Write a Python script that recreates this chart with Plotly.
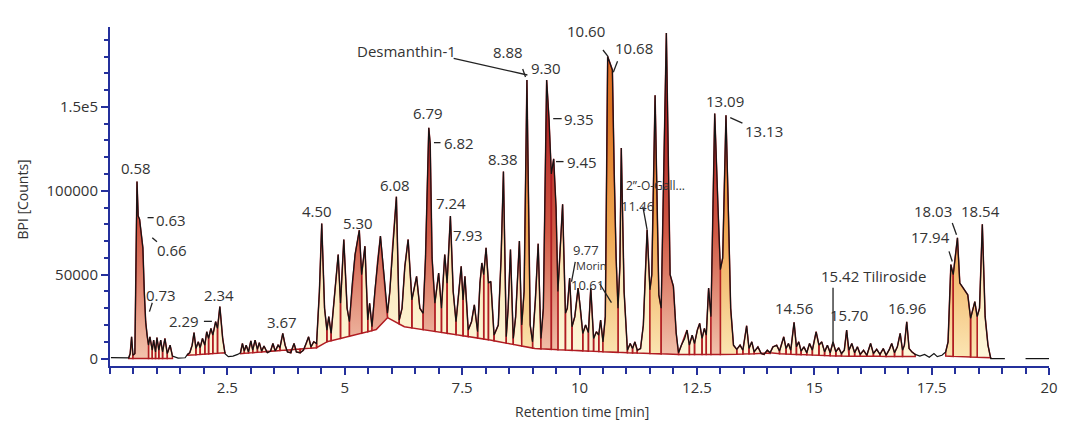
import numpy as np
import plotly.graph_objects as go

# ---------------- data ----------------
rt = [0.02, 0.40, 0.43, 0.46, 0.49, 0.53, 0.575, 0.60, 0.63, 0.66, 0.70, 0.73, 0.76, 0.79, 0.82,
      0.85, 0.90, 0.93, 0.97, 1.00, 1.04, 1.08, 1.12, 1.17, 1.22, 1.28, 1.33, 1.45, 1.60,
      1.65, 1.70, 1.75, 1.79, 1.83, 1.88, 1.92, 1.97, 2.02, 2.06, 2.10, 2.15, 2.19, 2.25, 2.29,
      2.34, 2.40, 2.45, 2.52, 2.62, 2.72,
      2.78, 2.82, 2.86, 2.90, 2.95, 3.00, 3.04, 3.09, 3.14, 3.18, 3.23, 3.28, 3.35, 3.42, 3.47,
      3.52, 3.58, 3.62, 3.68, 3.73, 3.78, 3.85, 3.92, 3.97, 4.05, 4.12, 4.18, 4.23, 4.28, 4.34,
      4.40, 4.46, 4.51, 4.57, 4.62, 4.66, 4.71, 4.77, 4.86, 4.91, 4.98, 5.05, 5.10, 5.16, 5.22,
      5.31, 5.36, 5.43, 5.49, 5.53, 5.58, 5.64, 5.70, 5.76, 5.85, 5.91, 5.96, 6.02, 6.10, 6.16,
      6.22, 6.28, 6.35, 6.43, 6.53, 6.60, 6.67, 6.72, 6.79, 6.82, 6.86, 6.92, 7.00, 7.06, 7.13,
      7.18, 7.25, 7.31, 7.37, 7.43, 7.48, 7.52, 7.56, 7.63, 7.70, 7.76, 7.83, 7.88, 7.92, 7.96,
      8.01, 8.06, 8.11, 8.18, 8.27, 8.33, 8.38, 8.44, 8.48, 8.53, 8.59, 8.64, 8.72, 8.77, 8.82,
      8.88, 8.95, 9.00, 9.06, 9.12, 9.18, 9.23, 9.30, 9.35, 9.40, 9.45, 9.50, 9.54, 9.58, 9.64,
      9.70, 9.74, 9.79, 9.84, 9.90, 9.97, 10.02, 10.07, 10.13, 10.19, 10.24, 10.30, 10.36, 10.41,
      10.45, 10.50, 10.55, 10.60, 10.65, 10.70, 10.74, 10.78, 10.82, 10.86, 10.89, 10.95, 11.02,
      11.08, 11.13, 11.18, 11.23, 11.30, 11.36, 11.44, 11.50, 11.54, 11.61, 11.69, 11.74, 11.85,
      11.93, 12.00, 12.06, 12.11, 12.17, 12.24, 12.29, 12.34, 12.40, 12.45, 12.51, 12.56, 12.61,
      12.66, 12.70, 12.75, 12.80, 12.88, 12.95, 13.00, 13.05, 13.12, 13.17, 13.22, 13.28, 13.35,
      13.42, 13.48, 13.56, 13.61, 13.67, 13.72, 13.80, 13.87, 13.93, 14.00, 14.06, 14.12, 14.20,
      14.26, 14.35, 14.40, 14.45, 14.50, 14.57, 14.62, 14.67, 14.72, 14.78, 14.84, 14.90, 14.96,
      15.04, 15.10, 15.16, 15.22, 15.28, 15.34, 15.40, 15.46, 15.52, 15.58, 15.64, 15.69, 15.74,
      15.80, 15.86, 15.92, 15.98, 16.05, 16.12, 16.20, 16.26, 16.33, 16.40, 16.47, 16.53, 16.60,
      16.65, 16.71, 16.77, 16.83, 16.88, 16.92, 16.97, 17.02, 17.08, 17.15, 17.25, 17.35, 17.45,
      17.55, 17.62, 17.72, 17.80, 17.85, 17.91, 17.96, 18.05, 18.10, 18.15, 18.22, 18.27, 18.33,
      18.42, 18.47, 18.52, 18.58, 18.64, 18.70, 18.76, 19.06]
bpi = [600, 500, 3000, 13000, 2000, 3000, 105500, 85000, 83000, 76000, 66000, 40000, 22000, 14000, 8000,
       13000, 5000, 11000, 4000, 12500, 5000, 11000, 4000, 12000, 3000, 8000, 1500, 300, 500,
       2500, 3500, 8000, 15500, 6000, 10000, 6500, 12000, 8000, 16000, 12000, 18000, 14000, 22000, 18000,
       31000, 12000, 3000, 1200, 1500, 2500,
       3500, 9000, 4500, 8000, 4000, 10500, 5000, 11000, 5500, 9500, 4500, 7500, 3500, 4500, 9000,
       4500, 8000, 6500, 15000, 8000, 4000, 3500, 9000, 4000, 3500, 5000, 9000, 13000, 7000, 10000,
       9000, 40000, 80500, 30000, 17000, 25000, 15000, 35000, 62000, 33000, 71000, 30000, 22000, 45000, 62000,
       76500, 50000, 67000, 23000, 33000, 19000, 40000, 58000, 73000, 46000, 27000, 40000, 67000, 96500, 23000,
       30000, 55000, 71000, 35000, 49000, 30000, 27000, 60000, 137500, 128000, 60000, 33000, 51000, 30000, 62000,
       45000, 85000, 40000, 22000, 40000, 55000, 35000, 49000, 17000, 22000, 32000, 16000, 45000, 57000, 50000,
       66000, 45000, 46000, 14000, 20000, 60000, 111500, 13000, 30000, 65000, 12000, 25000, 70000, 20000, 40000,
       166000, 20000, 10000, 35000, 68500, 12000, 30000, 166000, 143000, 110000, 119000, 90000, 40000, 60000, 92000,
       27000, 30000, 48000, 19000, 25000, 42000, 30000, 15000, 20000, 15500, 42000, 12000, 16000, 14000,
       23000, 10000, 25000, 180000, 176000, 172000, 110000, 60000, 30000, 55000, 125500, 40000, 5000,
       9000, 6000, 10000, 5000, 6000, 20000, 76800, 41000, 50000, 157000, 38000, 30000, 194000,
       50000, 43000, 15000, 3500, 8000, 12000, 17000, 8000, 14000, 9000, 17000, 21000, 12000,
       18000, 14000, 42000, 25000, 146000, 90000, 53000, 60000, 145000, 90000, 30000, 8000, 5500,
       8000, 5000, 19600, 6000, 10000, 4000, 7000, 3000, 2500, 5000, 3500, 7000, 8000,
       4500, 13000, 6000, 9000, 5000, 21600, 7000, 10000, 4500, 7000, 3500, 9000, 5000,
       16000, 8000, 10000, 4000, 8000, 3500, 10000, 4000, 6500, 3000, 5000, 17000, 5000,
       9000, 3500, 7000, 2500, 5000, 2000, 9000, 3000, 5500, 2500, 6000, 2000, 5500,
       9000, 3500, 7000, 15000, 5000, 8000, 22000, 6000, 4000, 2500, 1500, 2500, 800,
       3000, 1200, 2000, 4000, 10000, 56000, 50000, 72000, 45000, 43000, 40000, 38000, 24000,
       34000, 25000, 30000, 80000, 25000, 8000, 0, 0]
tail_rt = [19.50, 20.00]
tail_bpi = [0, 0]

# integration regions and their (drawn) baselines
reg_start = [0.40, 1.65, 2.78, 17.80]
reg_end = [1.33, 2.45, 17.15, 18.76]
base_rt = [[0.40, 1.33],
           [1.65, 2.45],
           [2.78, 4.40, 4.62, 5.67, 5.91, 6.27, 8.05, 9.05, 10.00, 11.02, 12.11, 13.28, 14.00, 15.50, 17.15],
           [17.80, 18.76]]
base_bpi = [[0, 0],
            [2000, 3500],
            [3000, 6500, 10000, 17300, 24400, 19000, 11300, 6000, 4700, 3500, 2500, 2500, 3200, 1500, 1200],
            [1500, 500]]

red_apex = [0.575, 5.31, 5.76, 6.79, 9.30, 9.45, 11.85, 12.88]
orange_apex = [8.88, 10.60, 11.61, 13.12, 17.91, 18.05, 18.42]

# peak labels: text, x, y, size
lab_text = ["0.58", "0.63", "0.66", "0.73", "2.29", "2.34", "3.67", "4.50", "5.30", "6.08", "6.79",
            "6.82", "7.24", "7.93", "8.38", "Desmanthin-1", "8.88", "9.30", "9.35", "9.45", "10.60",
            "10.68", "11.84", "13.09", "13.13", "2\u201d-O-Gall...", "11.46", "9.77", "Morin", "10.61",
            "14.56", "15.42 Tiliroside", "15.70", "16.96", "17.94", "18.03", "18.54"]
lab_x = [0.56, 1.30, 1.33, 1.09, 1.58, 2.32, 3.66, 4.40, 5.29, 6.07, 6.77,
         7.44, 7.27, 7.62, 8.38, 6.32, 8.47, 9.28, 9.99, 10.06, 10.13,
         11.16, 11.85, 13.09, 13.93, 11.62, 11.23, 10.13, 10.26, 10.17,
         14.57, 16.26, 15.75, 16.97, 17.48, 17.52, 18.54]
lab_y = [113700, 82700, 64900, 38100, 22600, 38100, 21600, 87700, 81100, 103600, 146600,
         128700, 93000, 73400, 118900, 183500, 182700, 173200, 143000, 117400, 195200,
         185100, 201400, 153300, 135800, 103100, 91200, 65000, 55200, 43600,
         30200, 49000, 26200, 30200, 72400, 87700, 87700]
lab_size = [15, 15, 15, 15, 15, 15, 15, 15, 15, 15, 15,
            15, 15, 15, 15, 15, 15, 15, 15, 15, 15,
            15, 15, 15, 15, 12, 13, 13, 11, 13,
            15, 15, 15, 15, 15, 15, 15]

# leader lines: x0, y0, x1, y1
lead_x0 = [0.80, 0.90, 0.90, 2.00, 6.90, 7.32, 8.79, 9.44, 9.50, 10.50, 10.81, 13.21, 11.35, 9.83, 10.43, 15.40, 17.87, 17.94]
lead_y0 = [84000, 72000, 33300, 22200, 128700, 178900, 172600, 143000, 117400, 183900, 177200, 143600, 90600, 45800, 44600, 42300, 63900, 80800]
lead_x1 = [0.93, 1.00, 0.84, 2.17, 7.04, 8.89, 8.85, 9.62, 9.66, 10.61, 10.72, 13.47, 11.44, 9.91, 10.68, 15.40, 17.94, 18.03]
lead_y1 = [84000, 69600, 28000, 22200, 128700, 169000, 167800, 143000, 117400, 179900, 170600, 140300, 76800, 57700, 33400, 7300, 57900, 73800]

x_ticks = [2.5, 5, 7.5, 10, 12.5, 15, 17.5, 20]
x_tick_text = ["2.5", "5", "7.5", "10", "12.5", "15", "17.5", "20"]
y_ticks = [0, 50000, 100000, 150000]
y_tick_text = ["0", "50000", "100000", "1.5e5"]

# ---------------- build peak polygons ----------------
rt_a = np.array(rt, dtype=float)
y_a = np.array(bpi, dtype=float)
groups = {"pale": ([], []), "red": ([], []), "orange": ([], [])}
for s, e, bt, by in zip(reg_start, reg_end, base_rt, base_bpi):
    idx = np.where((rt_a >= s - 1e-9) & (rt_a <= e + 1e-9))[0]
    bounds = [idx[0]]
    for i in idx[1:-1]:
        if y_a[i] < y_a[i - 1] and y_a[i] <= y_a[i + 1]:
            bounds.append(i)
    bounds.append(idx[-1])
    for a, b in zip(bounds[:-1], bounds[1:]):
        xs = list(rt_a[a:b + 1])
        ys = list(y_a[a:b + 1])
        inner = [(t, v) for t, v in zip(bt, by) if rt_a[a] < t < rt_a[b]]
        bottom = [(rt_a[b], float(np.interp(rt_a[b], bt, by)))] + inner[::-1] + \
                 [(rt_a[a], float(np.interp(rt_a[a], bt, by)))]
        xs += [p[0] for p in bottom] + [rt_a[a]]
        ys += [p[1] for p in bottom] + [y_a[a]]
        apex_t = rt_a[a + int(np.argmax(y_a[a:b + 1]))]
        if any(abs(apex_t - r) < 0.02 for r in red_apex):
            key = "red"
        elif any(abs(apex_t - r) < 0.02 for r in orange_apex):
            key = "orange"
        else:
            key = "pale"
        groups[key][0].extend(xs + [None])
        groups[key][1].extend(ys + [None])

grad = {
    "pale": [[0, "#fdf6da"], [0.6, "#f8e2a8"], [1, "#f0c27a"]],
    "orange": [[0, "#fbe6b4"], [0.5, "#f0a853"], [1, "#dd7422"]],
    "red": [[0, "#f3c4ae"], [0.5, "#d05a45"], [1, "#ad2020"]],
}

fig = go.Figure()
for key in ["pale", "orange", "red"]:
    gx, gy = groups[key]
    fig.add_trace(go.Scatter(
        x=gx, y=gy, mode="lines", fill="toself",
        fillgradient=dict(type="vertical", colorscale=grad[key], start=0, stop=150000),
        line=dict(color="#b01c22", width=1.5), hoverinfo="skip", showlegend=False))

fig.add_trace(go.Scatter(
    x=rt + [None] + tail_rt, y=bpi + [None] + tail_bpi, mode="lines",
    line=dict(color="#141414", width=1.2), connectgaps=False, showlegend=False))

for x0, y0, x1, y1 in zip(lead_x0, lead_y0, lead_x1, lead_y1):
    fig.add_shape(type="line", xref="x", yref="y", x0=x0, y0=y0, x1=x1, y1=y1,
                  line=dict(color="#222222", width=1.3))

for t, x, y, s in zip(lab_text, lab_x, lab_y, lab_size):
    fig.add_annotation(x=x, y=y, text=t, showarrow=False, xref="x", yref="y",
                       xanchor="center", yanchor="middle",
                       font=dict(size=s, color="#333333", family="Open Sans"))

axis_col = "#24309c"
fig.add_annotation(x=-0.093, y=0.49, xref="paper", yref="paper", text="BPI [Counts]",
                   textangle=-90, showarrow=False, xanchor="center", yanchor="middle",
                   font=dict(size=14, color="#333333", family="Open Sans"))
fig.add_annotation(x=0.503, y=-0.133, xref="paper", yref="paper", text="Retention time [min]",
                   showarrow=False, xanchor="center", yanchor="middle",
                   font=dict(size=14, color="#333333", family="Open Sans"))

# the page body adds an 8 px margin; the figure is sized so the plot lands where the reference has it
fig.update_layout(
    width=1062, height=424,
    margin=dict(l=102, r=16, t=19, b=66),
    plot_bgcolor="white", paper_bgcolor="white",
    font=dict(family="Open Sans", size=15, color="#333333"),
    xaxis=dict(range=[0, 20], showgrid=False, zeroline=False, showline=True,
               linecolor=axis_col, linewidth=2, ticks="outside", ticklen=7, tickwidth=1.5,
               tickcolor=axis_col, tickvals=x_ticks, ticktext=x_tick_text,
               tickfont=dict(size=15, color="#333333"),
               minor=dict(dtick=0.5, tick0=0, ticks="outside", ticklen=6, tickcolor=axis_col, tickwidth=1.5)),
    yaxis=dict(range=[-4400, 197600], showgrid=False, zeroline=False, showline=True,
               linecolor=axis_col, linewidth=2, ticks="outside", ticklen=7, tickwidth=1.5,
               tickcolor=axis_col, tickvals=y_ticks, ticktext=y_tick_text,
               tickfont=dict(size=15, color="#333333"),
               minor=dict(dtick=10000, tick0=0, ticks="outside", ticklen=4, tickcolor=axis_col, tickwidth=1.5)),
)

fig.write_html("out.html")
